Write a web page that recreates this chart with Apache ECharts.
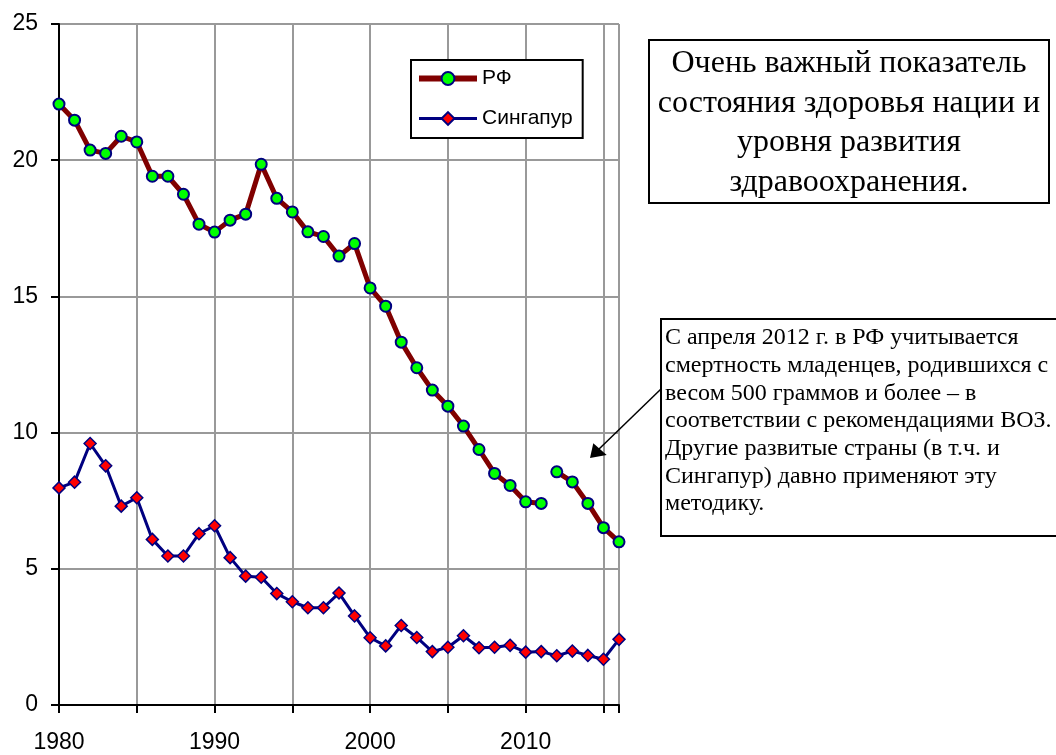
<!DOCTYPE html>
<html>
<head>
<meta charset="utf-8">
<script src="https://cdn.jsdelivr.net/npm/echarts@6/dist/echarts.min.js"></script>
<style>
  html, body { margin: 0; padding: 0; background: #fff; }
  #main { width: 1056px; height: 755px; }
</style>
</head>
<body>
<div id="main"></div>
<script>
// years 1980..2016
const years = [1980, 1981, 1982, 1983, 1984, 1985, 1986, 1987, 1988, 1989,
  1990, 1991, 1992, 1993, 1994, 1995, 1996, 1997, 1998, 1999,
  2000, 2001, 2002, 2003, 2004, 2005, 2006, 2007, 2008, 2009,
  2010, 2011, 2012, 2013, 2014, 2015, 2016];

const rfValues = [22.06, 21.47, 20.37, 20.25, 20.88, 20.67, 19.41, 19.41, 18.75, 17.65,
  17.36, 17.80, 18.02, 19.85, 18.60, 18.10, 17.37, 17.20, 16.48, 16.94,
  15.31, 14.64, 13.32, 12.38, 11.56, 10.97, 10.24, 9.38, 8.50, 8.06,
  7.46, 7.40, 8.56, 8.19, 7.40, 6.51, 5.99];

const sgValues = [7.97, 8.18, 9.60, 8.78, 7.30, 7.61, 6.08, 5.47, 5.47, 6.29,
  6.58, 5.41, 4.73, 4.69, 4.09, 3.79, 3.57, 3.57, 4.11, 3.27,
  2.47, 2.17, 2.92, 2.48, 1.96, 2.12, 2.54, 2.10, 2.12, 2.19,
  1.94, 1.96, 1.81, 1.98, 1.82, 1.68, 2.41];

// methodology changed in 2012, so the RF line is broken there
const rfBreakYear = 2012;

const yTicks = [0, 5, 10, 15, 20, 25];
const xLabelYears = [1980, 1990, 2000, 2010];

const note1 = ['Очень важный показатель', 'состояния здоровья нации и', 'уровня развития', 'здравоохранения.'];
const note2 = ['С апреля 2012 г. в РФ учитывается', 'смертность младенцев, родившихся с',
  'весом 500 граммов и более – в', 'соответствии с рекомендациями ВОЗ.',
  'Другие развитые страны (в т.ч. и', 'Сингапур) давно применяют эту', 'методику.'];

const rfBefore = years.filter(y => y < rfBreakYear).map(y => [y, rfValues[years.indexOf(y)]]);
const rfAfter = years.filter(y => y >= rfBreakYear).map(y => [y, rfValues[years.indexOf(y)]]);
const sgData = years.map((y, i) => [y, sgValues[i]]);

const sans = '"Liberation Sans", Arial, sans-serif';
const serif = '"Liberation Serif", "Times New Roman", serif';

const rfStyle = {
  type: 'line',
  name: 'РФ',
  symbol: 'circle',
  symbolSize: 11,
  lineStyle: { color: '#800000', width: 5 },
  itemStyle: { color: '#00ff00', borderColor: '#000080', borderWidth: 2 },
  z: 3
};

const chart = echarts.init(document.getElementById('main'));
chart.setOption({
  animation: false,
  grid: { left: 59, right: 437, top: 24, bottom: 50 },
  legend: {
    orient: 'vertical',
    left: 411,
    top: 60,
    data: [
      { name: 'РФ', lineStyle: { color: '#800000', width: 6 } },
      { name: 'Сингапур', lineStyle: { color: '#000080', width: 3 } }
    ],
    itemWidth: 58,
    itemHeight: 16,
    itemGap: 19,
    padding: [8, 10, 9, 5],
    borderColor: '#000',
    borderWidth: 2,
    backgroundColor: '#fff',
    textStyle: { fontFamily: sans, fontSize: 21, color: '#000' }
  },
  xAxis: {
    type: 'value',
    min: 1980,
    max: 2016,
    interval: 5,
    axisLine: { onZero: true, lineStyle: { color: '#000', width: 2 } },
    axisTick: { show: true, length: 8, lineStyle: { color: '#000', width: 2 } },
    axisLabel: {
      margin: 26,
      color: '#000',
      fontFamily: sans,
      fontSize: 23,
      formatter: v => xLabelYears.indexOf(v) >= 0 ? String(v) : ''
    },
    splitLine: { show: true, lineStyle: { color: '#999', width: 2 } }
  },
  yAxis: {
    type: 'value',
    min: yTicks[0],
    max: yTicks[yTicks.length - 1],
    interval: 5,
    axisLine: { show: true, lineStyle: { color: '#000', width: 2 } },
    axisTick: { show: true, length: 8, lineStyle: { color: '#000', width: 2 } },
    axisLabel: { margin: 21, color: '#000', fontFamily: sans, fontSize: 23 },
    splitLine: { show: true, lineStyle: { color: '#999', width: 2 } }
  },
  series: [
    Object.assign({}, rfStyle, { data: rfBefore }),
    Object.assign({}, rfStyle, { data: rfAfter }),
    {
      type: 'line',
      name: 'Сингапур',
      symbol: 'diamond',
      symbolSize: 12,
      lineStyle: { color: '#000080', width: 3 },
      itemStyle: { color: '#ff0000', borderColor: '#000080', borderWidth: 1.5 },
      data: sgData,
      z: 2
    }
  ],
  graphic: [
    {
      type: 'rect',
      shape: { x: 649, y: 40, width: 400, height: 163 },
      style: { fill: '#fff', stroke: '#000', lineWidth: 2 },
      z: 10
    },
    {
      type: 'text',
      x: 849,
      y: 123,
      style: {
        text: note1.join('\n'),
        font: '32px ' + serif,
        fill: '#000',
        align: 'center',
        verticalAlign: 'middle',
        lineHeight: 39.5
      },
      z: 11
    },
    {
      type: 'rect',
      shape: { x: 661, y: 319, width: 420, height: 217 },
      style: { fill: '#fff', stroke: '#000', lineWidth: 2 },
      z: 10
    },
    {
      type: 'text',
      x: 665,
      y: 324,
      style: {
        text: note2.join('\n'),
        font: '24px ' + serif,
        fill: '#000',
        align: 'left',
        verticalAlign: 'top',
        lineHeight: 27.7
      },
      z: 11
    },
    {
      type: 'line',
      shape: { x1: 661, y1: 389, x2: 598, y2: 450 },
      style: { stroke: '#000', lineWidth: 1.5 },
      z: 11
    },
    {
      type: 'polygon',
      shape: { points: [[590, 458], [593.3, 443.3], [606.7, 455]] },
      style: { fill: '#000' },
      z: 11
    }
  ]
});
</script>
</body>
</html>
